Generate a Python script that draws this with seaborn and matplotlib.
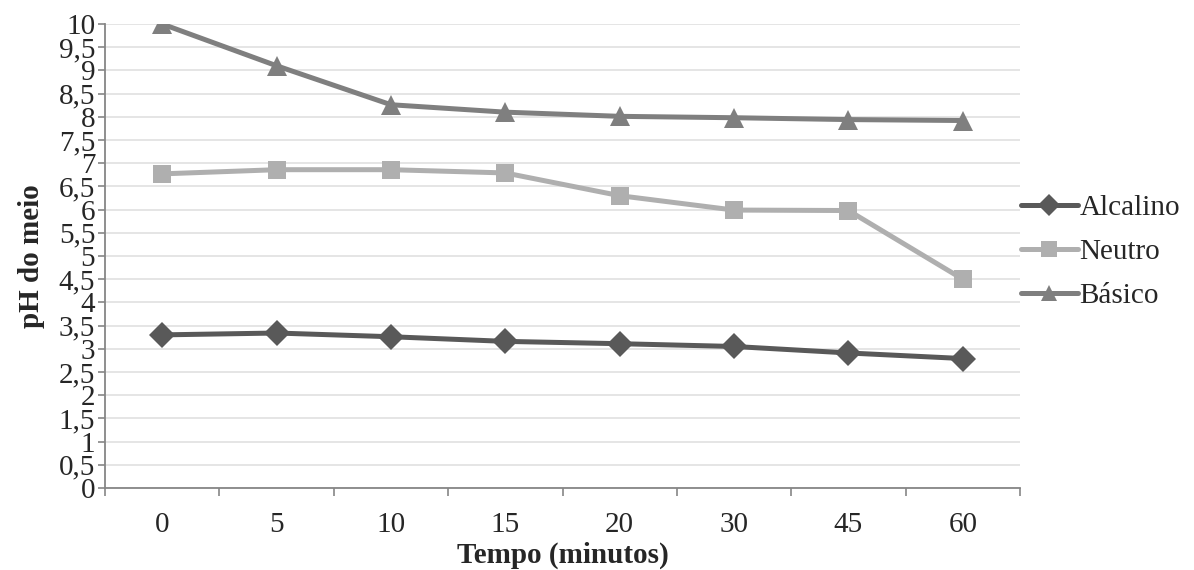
import numpy as np
import pandas as pd
import matplotlib
matplotlib.use('Agg')
import matplotlib.pyplot as plt
from matplotlib.ticker import FuncFormatter, MultipleLocator, FixedLocator
import seaborn as sns

tempo = ['0', '5', '10', '15', '20', '30', '45', '60']
alcalino = [3.30, 3.34, 3.26, 3.16, 3.11, 3.05, 2.91, 2.79]
neutro = [6.77, 6.86, 6.86, 6.79, 6.30, 5.99, 5.98, 4.50]
basico = [10.0, 9.10, 8.26, 8.10, 8.01, 7.98, 7.94, 7.92]

series_names = ['Alcalino', 'Neutro', 'Básico']
cores = {'Alcalino': '#595959', 'Neutro': '#afafaf', 'Básico': '#7f7f7f'}
marcadores = {'Alcalino': 'D', 'Neutro': 's', 'Básico': '^'}

df = pd.DataFrame({'Tempo': tempo * 3,
                   'pH': alcalino + neutro + basico,
                   'Meio': sum([[n] * len(tempo) for n in series_names], [])})

sns.set_style('white')
plt.rcParams['font.family'] = ['Liberation Serif', 'DejaVu Serif']
fs = 21

fig = plt.figure(figsize=(11.94, 5.70), dpi=100)
ax = fig.add_axes([105/1194, 82/570, 915/1194, 464/570])

sns.lineplot(data=df, x='Tempo', y='pH', hue='Meio', style='Meio',
             palette=cores, markers=marcadores, dashes=False, sort=False,
             linewidth=3.6, markersize=13, markeredgewidth=0, ax=ax)
# triangulo um pouco maior
for ln in ax.lines:
    if ln.get_marker() == '^':
        ln.set_markersize(15)

ax.set_xlim(-0.5, len(tempo) - 0.5)
ax.set_ylim(0, 10)
ax.yaxis.set_major_locator(MultipleLocator(0.5))
ax.yaxis.set_major_formatter(FuncFormatter(lambda v, p: ('%g' % v).replace('.', ',')))
ax.grid(axis='y', color='#e3e3e3', linewidth=1.3)
ax.set_axisbelow(True)

ax.set_xticks(range(len(tempo)))
ax.set_xticklabels(tempo)
ax.xaxis.set_minor_locator(FixedLocator(np.arange(-0.5, len(tempo), 1)))
ax.tick_params(axis='x', which='major', length=0, pad=17, labelsize=fs)
ax.tick_params(axis='x', which='minor', length=6, width=1.2, color='#868686', direction='out', bottom=True)
ax.tick_params(axis='y', length=5, width=1.2, color='#868686', direction='out', left=True, pad=2, labelsize=fs)

for s in ['top', 'right']:
    ax.spines[s].set_visible(False)
for s in ['left', 'bottom']:
    ax.spines[s].set_color('#868686')
    ax.spines[s].set_linewidth(1.3)

ax.set_xlabel('Tempo (minutos)', fontsize=fs, fontweight='bold', labelpad=3)
ax.set_ylabel('pH do meio', fontsize=fs, fontweight='bold', labelpad=10)

handles, labels = ax.get_legend_handles_labels()
for h in handles:
    h.set_markersize(11)
ax.legend(handles, labels, loc='center left', bbox_to_anchor=(1021/1194, 1 - 252/570),
          bbox_transform=fig.transFigure, frameon=False, fontsize=fs, borderpad=0,
          handlelength=1.95, handletextpad=0.05, labelspacing=0.6, borderaxespad=0)

fig.savefig('out.png', dpi=100)
